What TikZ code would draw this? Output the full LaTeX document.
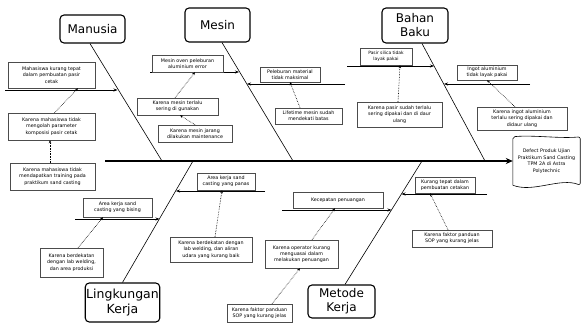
\documentclass[tikz,border=0pt]{standalone}
\usepackage{fontspec}
\setmainfont{DejaVu Sans}
\usetikzlibrary{arrows.meta,calc,shadows}
\begin{document}
\begin{tikzpicture}[x=1pt,y=-1pt,
  cause/.style={draw=black!70, fill=white, line width=0.4pt, align=center,
    font=\fontsize{4.8}{6.3}\selectfont, inner sep=0.5pt,
    drop shadow={shadow xshift=0.8pt, shadow yshift=-0.8pt, opacity=0.35}},
  title/.style={draw, line width=1.1pt, rounded corners=4pt, align=center,
    font=\fontsize{12}{14}\selectfont, inner sep=1pt},
  bone/.style={line width=0.6pt},
  sub/.style={line width=0.7pt, -{Stealth[length=4pt,width=3pt]}},
  dot/.style={densely dotted, line width=0.6pt, -{Stealth[length=3pt,width=2.5pt]}}]
\useasboundingbox (0,0) rectangle (583,324);

% title boxes
\node[title, minimum width=65pt, minimum height=28pt] (man) at (92.5,29) {Manusia};
\node[title, minimum width=65pt, minimum height=34pt] (mes) at (217.5,25) {Mesin};
\node[title, minimum width=66pt, minimum height=35pt] (bah) at (415,25.5) {Bahan\\Baku};
\node[title, minimum width=69pt, minimum height=39pt, font=\fontsize{12.5}{14.5}\selectfont] (lin) at (122.5,302.5) {Lingkungan\\Kerja};
\node[title, minimum width=67pt, minimum height=33pt] (met) at (341.5,301.5) {Metode\\Kerja};

% effect
\node[align=center, font=\fontsize{4.8}{6.5}\selectfont, minimum width=67pt, minimum height=48pt, inner sep=1pt] (eff) at (546.5,161)
  {Defect Produk Ujian\\Praktikum Sand Casting\\TPM 2A di Astra\\Polytechnic};
\draw[line width=0.6pt, rounded corners=2pt] (eff.south west) -- (eff.north west)
  .. controls +(20,-2) and +(-20,2) .. (eff.north east) -- (eff.south east)
  .. controls +(-20,-8) and +(20,8) .. (eff.south west);

% spine
\coordinate (spineL) at (105,161);
\draw[line width=1.6pt, -{Stealth[length=7pt,width=6pt]}] (spineL) -- (eff.west);

% diagonal bones
\coordinate (manS) at (162,161);
\coordinate (mesS) at (293,161);
\coordinate (bahS) at (485,161);
\coordinate (linS) at (193,161);
\coordinate (metS) at (422,161);
\draw[bone] ([xshift=-2.5pt]man.south) -- (manS);
\draw[bone] ([xshift=4.5pt]mes.south) -- (mesS);
\draw[bone] ([xshift=7pt]bah.south) -- (bahS);
\draw[bone] (lin.north) -- (linS);
\draw[bone] ([xshift=3.5pt]met.north) -- (metS);

% sub-bone end points
\coordinate (mA0) at (5,90);      \coordinate (mA1) at (117.5,90);
\coordinate (sA0) at (150,72);    \coordinate (sA1) at (239,72);
\coordinate (sB0) at (345,84);    \coordinate (sB1) at (247,84);
\coordinate (bA0) at (347,66);    \coordinate (bA1) at (434,66);
\coordinate (bB0) at (530,84);    \coordinate (bB1) at (444,84);
\coordinate (lA0) at (75,219);    \coordinate (lA1) at (159.5,219);
\coordinate (lB0) at (265,191);   \coordinate (lB1) at (176,191);
\coordinate (kA0) at (282,210);   \coordinate (kA1) at (391.5,210);
\coordinate (kB0) at (487,194);   \coordinate (kB1) at (401.5,194);
\draw[sub] (mA0) -- (mA1);
\draw[sub] (sA0) -- (sA1);
\draw[sub] (sB0) -- (sB1);
\draw[sub] (bA0) -- (bA1);
\draw[sub] (bB0) -- (bB1);
\draw[sub] (lA0) -- (lA1);
\draw[sub] (lB0) -- (lB1);
\draw[sub] (kA0) -- (kA1);
\draw[sub] (kB0) -- (kB1);

% cause boxes
\node[cause, minimum width=87pt, minimum height=26pt] (m1) at (51.5,75) {Mahasiswa kurang tepat\\dalam pembuatan pasir\\cetak};
\node[cause, minimum width=87pt, minimum height=27pt] (m2) at (51.5,126.5) {Karena mahasiswa tidak\\mengolah parameter\\komposisi pasir cetak};
\node[cause, minimum width=85pt, minimum height=27pt] (m3) at (52.5,176.5) {Karena mahasiswa tidak\\mendapatkan training pada\\praktikum sand casting};

\node[cause, minimum width=71pt, minimum height=17pt] (s1) at (187.5,63.5) {Mesin oven peleburan\\aluminium error};
\node[cause, minimum width=81pt, minimum height=17pt] (s2) at (177.5,106.5) {Karena mesin terlalu\\sering di gunakan};
\node[cause, minimum width=74pt, minimum height=17pt] (s3) at (195,133.5) {Karena mesin jarang\\dilakukan maintenance};
\node[cause, minimum width=60pt, minimum height=15pt] (s4) at (290,74.5) {Peleburan material\\tidak maksimal};
\node[cause, minimum width=67pt, minimum height=16pt] (s5) at (308.5,116) {Lifetime mesin sudah\\mendekati batas};

\node[cause, minimum width=52pt, minimum height=17pt, font=\fontsize{4.4}{6}\selectfont] (b1) at (386,56.5) {Pasir silica tidak\\layak pakai};
\node[cause, minimum width=85pt, minimum height=25pt] (b2) at (399.5,114.5) {Karena pasir sudah terlalu\\sering dipakai dan di daur\\ulang};
\node[cause, minimum width=60pt, minimum height=15pt] (b3) at (487,72.5) {Ingot aluminium\\tidak layak pakai};
\node[cause, minimum width=90pt, minimum height=23pt] (b4) at (522,118.5) {Karena ingot aluminium\\terlalu sering dipakai dan\\didaur ulang};

\node[cause, minimum width=69pt, minimum height=19pt] (l1) at (117.5,207.5) {Area kerja sand\\casting yang bising};
\node[cause, minimum width=63pt, minimum height=29pt] (l2) at (71.5,262.5) {Karena berdekatan\\dengan lab welding,\\dan area produksi};
\node[cause, minimum width=58pt, minimum height=17pt] (l3) at (226,181.5) {Area kerja sand\\casting yang panas};
\node[cause, minimum width=82pt, minimum height=25pt] (l4) at (211,249.5) {Karena berdekatan dengan\\lab welding, dan aliran\\udara yang kurang baik};

\node[cause, minimum width=90pt, minimum height=16pt] (k1) at (338,200) {Kecepatan penuangan};
\node[cause, minimum width=73pt, minimum height=28pt] (k2) at (301.5,254) {Karena operator kurang\\menguasai dalam\\melakukan penuangan};
\node[cause, minimum width=65pt, minimum height=18pt] (k3) at (259.5,313) {Karena faktor panduan\\SOP yang kurang jelas};
\node[cause, minimum width=60pt, minimum height=16pt] (k4) at (445,185) {Kurang tepat dalam\\pembuatan cetakan};
\node[cause, minimum width=80pt, minimum height=17pt] (k5) at (452,238.5) {Karena faktor panduan\\SOP yang kurang jelas};

% dotted cause arrows
\draw[dot] ([xshift=3pt]m2.north) -- ([xshift=26.5pt]m1.south);
\draw[dot] ([xshift=-2.5pt]m3.north) -- ([xshift=-1.5pt]m2.south);
\draw[dot] ([xshift=-2.5pt]s2.north) -- ([xshift=7.5pt]s1.south);
\draw[dot] ([xshift=0pt]s3.north) -- ([xshift=2.5pt]s2.south);
\draw[dot] ([xshift=-8.5pt]s5.north) -- (s4.south);
\draw[dot] ([xshift=-1.5pt]b2.north) -- ([xshift=14pt]b1.south);
\draw[dot] ([xshift=-7pt]b4.north) -- (b3.south);
\draw[dot] ([xshift=6.5pt]l2.north) -- ([xshift=-14.5pt]l1.south);
\draw[dot] ([xshift=4pt]l4.north) -- ([xshift=-4pt]l3.south);
\draw[dot] ([xshift=10.5pt]k2.north) -- ([xshift=-3pt]k1.south);
\draw[dot] ([xshift=12.5pt]k3.north) -- ([xshift=-1.5pt]k2.south);
\draw[dot] ([xshift=-4pt]k5.north) -- ([xshift=-15pt]k4.south);
\end{tikzpicture}
\end{document}
